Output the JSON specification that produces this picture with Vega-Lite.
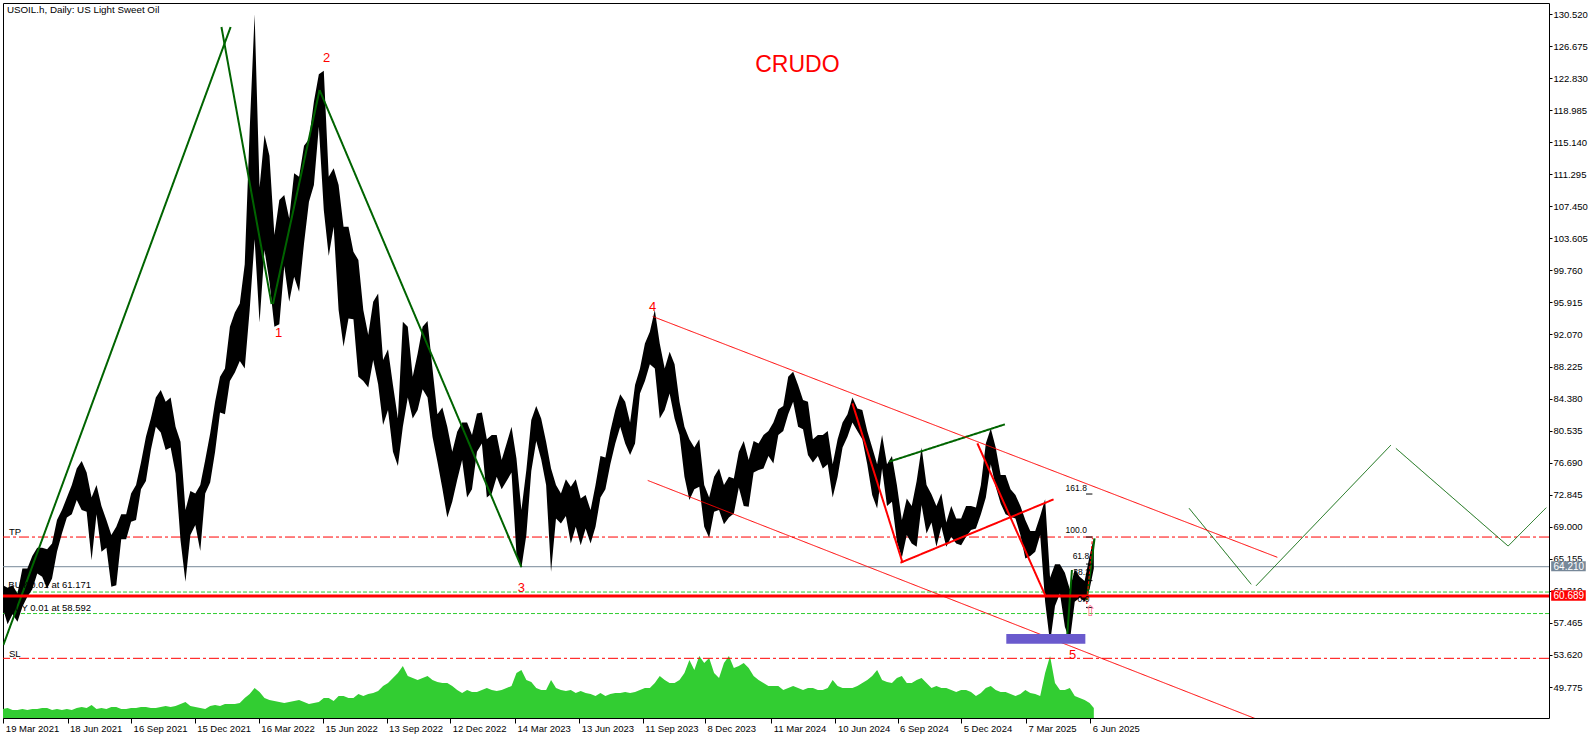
{
"$schema":"https://vega.github.io/schema/vega-lite/v6.json",
"width":1546,"height":715,
"autosize":{"type":"none"},
"padding":{"left":3,"top":3,"right":47,"bottom":21},
"background":"white",
"config":{"view":{"stroke":"black","strokeWidth":1},"font":"Liberation Sans"},
"datasets":{
"w":[
{"d":"2021-03-18","l":59.3,"h":62.0,"v":9},{"d":"2021-03-25","l":57.3,"h":61.7,"v":10},{"d":"2021-04-01","l":58.5,"h":62.0,"v":8},{"d":"2021-04-08","l":57.6,"h":61.0,"v":8},{"d":"2021-04-15","l":59.4,"h":64.0,"v":9},{"d":"2021-04-22","l":60.6,"h":64.0,"v":8},{"d":"2021-04-29","l":61.5,"h":65.5,"v":9},{"d":"2021-05-06","l":63.4,"h":66.5,"v":9},{"d":"2021-05-13","l":63.0,"h":66.5,"v":10},{"d":"2021-05-20","l":61.6,"h":66.3,"v":10},{"d":"2021-05-27","l":62.8,"h":67.0,"v":8},{"d":"2021-06-03","l":66.0,"h":69.8,"v":9},{"d":"2021-06-10","l":68.2,"h":71.0,"v":8},{"d":"2021-06-17","l":70.1,"h":72.5,"v":9},{"d":"2021-06-24","l":70.5,"h":74.0,"v":8},{"d":"2021-07-01","l":72.2,"h":76.0,"v":10},{"d":"2021-07-08","l":71.0,"h":76.9,"v":11},{"d":"2021-07-15","l":70.8,"h":75.5,"v":10},{"d":"2021-07-22","l":65.0,"h":72.5,"v":13},{"d":"2021-07-29","l":70.5,"h":74.0,"v":9},{"d":"2021-08-05","l":66.0,"h":71.5,"v":10},{"d":"2021-08-12","l":66.5,"h":69.8,"v":9},{"d":"2021-08-19","l":61.8,"h":68.0,"v":11},{"d":"2021-08-26","l":62.0,"h":69.0,"v":11},{"d":"2021-09-02","l":67.5,"h":70.5,"v":9},{"d":"2021-09-09","l":67.5,"h":70.5,"v":9},{"d":"2021-09-16","l":69.6,"h":73.0,"v":10},{"d":"2021-09-23","l":69.8,"h":74.0,"v":10},{"d":"2021-09-30","l":73.5,"h":76.7,"v":11},{"d":"2021-10-07","l":74.5,"h":79.8,"v":11},{"d":"2021-10-14","l":78.2,"h":82.0,"v":10},{"d":"2021-10-21","l":81.0,"h":84.5,"v":10},{"d":"2021-10-28","l":80.3,"h":85.4,"v":11},{"d":"2021-11-04","l":78.2,"h":84.0,"v":12},{"d":"2021-11-11","l":78.5,"h":84.5,"v":11},{"d":"2021-11-18","l":75.4,"h":81.0,"v":12},{"d":"2021-11-25","l":67.4,"h":79.2,"v":14},{"d":"2021-12-02","l":62.4,"h":71.0,"v":16},{"d":"2021-12-09","l":68.0,"h":73.3,"v":12},{"d":"2021-12-16","l":69.2,"h":73.0,"v":11},{"d":"2021-12-23","l":66.1,"h":74.0,"v":10},{"d":"2021-12-30","l":73.0,"h":77.0,"v":9},
{"d":"2022-01-06","l":74.3,"h":80.2,"v":12},{"d":"2022-01-13","l":78.0,"h":84.0,"v":13},{"d":"2022-01-20","l":82.7,"h":87.0,"v":12},{"d":"2022-01-27","l":82.5,"h":88.0,"v":14},{"d":"2022-02-03","l":86.5,"h":93.0,"v":14},{"d":"2022-02-10","l":87.5,"h":94.7,"v":14},{"d":"2022-02-17","l":88.9,"h":95.8,"v":15},{"d":"2022-02-24","l":88.0,"h":100.5,"v":20},{"d":"2022-03-03","l":95.0,"h":116.6,"v":24},{"d":"2022-03-10","l":103.5,"h":130.5,"v":30},{"d":"2022-03-17","l":93.5,"h":109.7,"v":26},{"d":"2022-03-24","l":102.2,"h":116.0,"v":20},{"d":"2022-03-31","l":98.4,"h":113.5,"v":18},{"d":"2022-04-07","l":93.0,"h":104.0,"v":17},{"d":"2022-04-14","l":93.3,"h":108.2,"v":16},{"d":"2022-04-21","l":100.3,"h":108.8,"v":15},{"d":"2022-04-28","l":96.0,"h":106.0,"v":16},{"d":"2022-05-05","l":99.0,"h":111.4,"v":17},{"d":"2022-05-12","l":97.2,"h":111.0,"v":18},{"d":"2022-05-19","l":103.0,"h":114.7,"v":16},{"d":"2022-05-26","l":108.0,"h":115.5,"v":14},{"d":"2022-06-02","l":110.0,"h":120.0,"v":15},{"d":"2022-06-09","l":117.0,"h":123.3,"v":16},{"d":"2022-06-16","l":107.0,"h":123.7,"v":20},{"d":"2022-06-23","l":101.5,"h":111.0,"v":20},{"d":"2022-06-30","l":105.0,"h":112.0,"v":17},{"d":"2022-07-07","l":95.0,"h":110.0,"v":22},{"d":"2022-07-14","l":90.6,"h":105.0,"v":22},{"d":"2022-07-21","l":94.0,"h":105.0,"v":20},{"d":"2022-07-28","l":93.9,"h":102.0,"v":20},{"d":"2022-08-04","l":87.0,"h":101.0,"v":24},{"d":"2022-08-11","l":86.5,"h":95.0,"v":22},{"d":"2022-08-18","l":85.7,"h":92.0,"v":24},{"d":"2022-08-25","l":89.0,"h":96.0,"v":25},{"d":"2022-09-01","l":86.1,"h":97.0,"v":27},{"d":"2022-09-08","l":81.2,"h":89.0,"v":32},{"d":"2022-09-15","l":83.0,"h":90.3,"v":35},{"d":"2022-09-22","l":78.0,"h":86.0,"v":40},{"d":"2022-09-29","l":76.3,"h":82.0,"v":45},{"d":"2022-10-06","l":81.0,"h":93.6,"v":52},{"d":"2022-10-13","l":84.5,"h":93.0,"v":42},{"d":"2022-10-20","l":82.0,"h":87.0,"v":40},{"d":"2022-10-27","l":83.0,"h":89.8,"v":38},{"d":"2022-11-03","l":85.5,"h":93.0,"v":40},{"d":"2022-11-10","l":84.5,"h":93.7,"v":42},{"d":"2022-11-17","l":79.8,"h":88.0,"v":38},{"d":"2022-11-24","l":76.8,"h":82.5,"v":36},{"d":"2022-12-01","l":73.6,"h":83.3,"v":35},{"d":"2022-12-08","l":70.1,"h":81.0,"v":35},{"d":"2022-12-15","l":72.0,"h":78.0,"v":32},{"d":"2022-12-22","l":74.6,"h":80.4,"v":28},{"d":"2022-12-29","l":77.0,"h":81.5,"v":25},
{"d":"2023-01-05","l":72.5,"h":81.5,"v":28},{"d":"2023-01-12","l":73.5,"h":80.0,"v":26},{"d":"2023-01-19","l":78.0,"h":82.6,"v":26},{"d":"2023-01-26","l":79.0,"h":82.7,"v":28},{"d":"2023-02-02","l":72.5,"h":79.5,"v":30},{"d":"2023-02-09","l":73.0,"h":80.0,"v":28},{"d":"2023-02-16","l":75.0,"h":80.0,"v":27},{"d":"2023-02-23","l":73.5,"h":77.0,"v":28},{"d":"2023-03-02","l":74.5,"h":79.0,"v":30},{"d":"2023-03-09","l":75.5,"h":81.0,"v":32},{"d":"2023-03-16","l":65.7,"h":77.2,"v":45},{"d":"2023-03-23","l":64.1,"h":71.0,"v":48},{"d":"2023-03-30","l":68.0,"h":75.8,"v":38},{"d":"2023-04-06","l":75.7,"h":81.8,"v":36},{"d":"2023-04-13","l":79.3,"h":83.5,"v":30},{"d":"2023-04-20","l":77.1,"h":82.0,"v":28},{"d":"2023-04-27","l":74.0,"h":79.2,"v":28},{"d":"2023-05-04","l":63.6,"h":76.0,"v":38},{"d":"2023-05-11","l":70.0,"h":74.0,"v":30},{"d":"2023-05-18","l":69.4,"h":73.0,"v":28},{"d":"2023-05-25","l":70.3,"h":74.7,"v":27},{"d":"2023-06-01","l":67.0,"h":73.8,"v":28},{"d":"2023-06-08","l":69.0,"h":74.7,"v":25},{"d":"2023-06-15","l":66.8,"h":72.4,"v":27},{"d":"2023-06-22","l":68.8,"h":72.8,"v":25},{"d":"2023-06-29","l":67.0,"h":71.0,"v":24},{"d":"2023-07-06","l":69.0,"h":74.0,"v":22},{"d":"2023-07-13","l":72.5,"h":77.5,"v":25},{"d":"2023-07-20","l":73.5,"h":77.3,"v":22},{"d":"2023-07-27","l":76.5,"h":80.5,"v":24},{"d":"2023-08-03","l":79.0,"h":83.0,"v":25},{"d":"2023-08-10","l":81.0,"h":84.9,"v":25},{"d":"2023-08-17","l":79.0,"h":84.0,"v":26},{"d":"2023-08-24","l":77.6,"h":81.5,"v":25},{"d":"2023-08-31","l":79.0,"h":86.0,"v":26},{"d":"2023-09-07","l":85.0,"h":88.0,"v":28},{"d":"2023-09-14","l":86.5,"h":91.0,"v":30},{"d":"2023-09-21","l":88.5,"h":92.4,"v":30},{"d":"2023-09-28","l":88.0,"h":95.0,"v":35},{"d":"2023-10-05","l":82.0,"h":91.0,"v":42},{"d":"2023-10-12","l":83.0,"h":88.0,"v":38},{"d":"2023-10-19","l":85.0,"h":90.0,"v":35},{"d":"2023-10-26","l":82.0,"h":88.5,"v":35},{"d":"2023-11-02","l":80.0,"h":84.0,"v":38},{"d":"2023-11-09","l":75.0,"h":81.0,"v":45},{"d":"2023-11-16","l":72.2,"h":79.5,"v":58},{"d":"2023-11-23","l":73.5,"h":78.5,"v":48},{"d":"2023-11-30","l":73.8,"h":79.5,"v":62},{"d":"2023-12-07","l":69.0,"h":74.0,"v":55},{"d":"2023-12-14","l":67.7,"h":72.5,"v":60},{"d":"2023-12-21","l":70.8,"h":75.0,"v":45},{"d":"2023-12-28","l":71.0,"h":76.0,"v":40},
{"d":"2024-01-04","l":69.3,"h":74.0,"v":55},{"d":"2024-01-11","l":70.1,"h":75.0,"v":62},{"d":"2024-01-18","l":70.6,"h":74.8,"v":50},{"d":"2024-01-25","l":73.7,"h":78.0,"v":52},{"d":"2024-02-01","l":71.5,"h":79.3,"v":55},{"d":"2024-02-08","l":71.4,"h":77.0,"v":50},{"d":"2024-02-15","l":75.5,"h":79.3,"v":42},{"d":"2024-02-22","l":75.8,"h":79.0,"v":38},{"d":"2024-02-29","l":76.0,"h":80.0,"v":35},{"d":"2024-03-07","l":77.5,"h":80.5,"v":32},{"d":"2024-03-14","l":76.6,"h":81.5,"v":32},{"d":"2024-03-21","l":80.0,"h":83.1,"v":32},{"d":"2024-03-28","l":80.5,"h":83.5,"v":28},{"d":"2024-04-04","l":82.5,"h":87.0,"v":30},{"d":"2024-04-11","l":84.0,"h":87.6,"v":32},{"d":"2024-04-18","l":81.0,"h":86.0,"v":30},{"d":"2024-04-25","l":80.7,"h":84.2,"v":28},{"d":"2024-05-02","l":77.6,"h":84.0,"v":30},{"d":"2024-05-09","l":76.7,"h":79.5,"v":30},{"d":"2024-05-16","l":77.5,"h":80.0,"v":28},{"d":"2024-05-23","l":76.0,"h":80.0,"v":28},{"d":"2024-05-30","l":76.5,"h":80.5,"v":30},{"d":"2024-06-06","l":72.5,"h":76.5,"v":38},{"d":"2024-06-13","l":75.0,"h":79.5,"v":32},{"d":"2024-06-20","l":78.5,"h":81.5,"v":30},{"d":"2024-06-27","l":79.8,"h":82.5,"v":30},{"d":"2024-07-04","l":81.5,"h":84.5,"v":30},{"d":"2024-07-11","l":80.5,"h":83.2,"v":32},{"d":"2024-07-18","l":79.5,"h":83.0,"v":35},{"d":"2024-07-25","l":76.5,"h":80.5,"v":38},{"d":"2024-08-01","l":72.8,"h":78.5,"v":42},{"d":"2024-08-08","l":71.2,"h":76.5,"v":48},{"d":"2024-08-15","l":76.0,"h":80.0,"v":38},{"d":"2024-08-22","l":71.5,"h":76.5,"v":36},{"d":"2024-08-29","l":72.0,"h":77.5,"v":35},{"d":"2024-09-05","l":67.2,"h":74.0,"v":40},{"d":"2024-09-12","l":65.3,"h":69.8,"v":42},{"d":"2024-09-19","l":68.0,"h":72.4,"v":35},{"d":"2024-09-26","l":67.0,"h":71.5,"v":35},{"d":"2024-10-03","l":66.6,"h":74.5,"v":38},{"d":"2024-10-10","l":71.6,"h":78.5,"v":40},{"d":"2024-10-17","l":68.2,"h":74.0,"v":35},{"d":"2024-10-24","l":69.5,"h":72.9,"v":30},{"d":"2024-10-31","l":66.6,"h":71.5,"v":32},{"d":"2024-11-07","l":69.0,"h":73.0,"v":30},{"d":"2024-11-14","l":66.6,"h":69.5,"v":30},{"d":"2024-11-21","l":67.8,"h":71.5,"v":28},{"d":"2024-11-28","l":67.0,"h":70.0,"v":26},{"d":"2024-12-05","l":66.8,"h":70.0,"v":28},{"d":"2024-12-12","l":67.8,"h":71.5,"v":28},{"d":"2024-12-19","l":68.6,"h":71.5,"v":26},{"d":"2024-12-26","l":68.8,"h":71.3,"v":22},
{"d":"2025-01-02","l":70.5,"h":74.0,"v":25},{"d":"2025-01-09","l":72.5,"h":79.0,"v":30},{"d":"2025-01-16","l":76.5,"h":80.8,"v":32},{"d":"2025-01-23","l":73.8,"h":78.5,"v":28},{"d":"2025-01-30","l":71.8,"h":75.2,"v":26},{"d":"2025-02-06","l":70.5,"h":75.2,"v":26},{"d":"2025-02-13","l":70.2,"h":73.5,"v":24},{"d":"2025-02-20","l":70.0,"h":72.8,"v":22},{"d":"2025-02-27","l":68.0,"h":71.5,"v":24},{"d":"2025-03-06","l":65.2,"h":69.8,"v":28},{"d":"2025-03-13","l":65.5,"h":68.5,"v":25},{"d":"2025-03-20","l":66.0,"h":68.5,"v":24},{"d":"2025-03-27","l":68.0,"h":70.3,"v":22},{"d":"2025-04-03","l":60.0,"h":72.3,"v":45},{"d":"2025-04-10","l":55.1,"h":62.9,"v":62},{"d":"2025-04-17","l":59.5,"h":64.5,"v":35},{"d":"2025-04-24","l":61.0,"h":64.5,"v":28},{"d":"2025-05-01","l":57.0,"h":63.5,"v":28},{"d":"2025-05-08","l":55.3,"h":61.5,"v":30},{"d":"2025-05-15","l":60.0,"h":63.9,"v":22},{"d":"2025-05-22","l":60.5,"h":63.0,"v":20},{"d":"2025-05-29","l":60.0,"h":62.5,"v":18},{"d":"2025-06-05","l":61.5,"h":65.5,"v":15},{"d":"2025-06-11","l":64.0,"h":67.7,"v":10}
],
"seg":[
{"k":"g2","a":"2021-03-19","p":54.82,"b":"2022-02-04","q":128.96},
{"k":"g2","a":"2022-01-22","p":128.96,"b":"2022-04-03","q":95.73},
{"k":"g2","a":"2022-04-05","p":95.73,"b":"2022-06-10","q":121.4},
{"k":"g2","a":"2022-06-10","p":121.4,"b":"2023-03-23","q":64.17},
{"k":"g2","a":"2024-08-25","p":76.81,"b":"2025-02-05","q":81.29},
{"k":"g2","a":"2025-05-04","p":55.62,"b":"2025-05-11","q":63.81},
{"k":"g2","a":"2025-06-01","p":60.21,"b":"2025-06-12","q":67.6},
{"k":"g1","a":"2025-10-24","p":71.22,"b":"2026-01-20","q":62.10},
{"k":"g1","a":"2026-01-27","p":61.93,"b":"2026-08-06","q":78.81},
{"k":"g1","a":"2026-08-13","p":78.41,"b":"2027-01-19","q":66.69},
{"k":"g1","a":"2027-01-19","p":66.69,"b":"2027-03-14","q":71.29},
{"k":"r1","a":"2023-09-25","p":94.23,"b":"2026-02-26","q":65.34},
{"k":"r1","a":"2023-09-18","p":74.56,"b":"2026-01-26","q":45.98},
{"k":"r2","a":"2024-07-04","p":83.81,"b":"2024-09-13","q":64.69},
{"k":"r2","a":"2024-09-10","p":64.69,"b":"2025-04-15","q":72.29},
{"k":"r2","a":"2024-12-28","p":79.01,"b":"2025-04-03","q":60.81},
{"k":"rd","a":"2025-06-01","p":59.74,"b":"2025-06-09","q":67.65},
{"k":"f","a":"2025-05-31","p":72.93,"b":"2025-06-09","q":72.93},
{"k":"f","a":"2025-05-31","p":67.77,"b":"2025-06-09","q":67.77},
{"k":"f","a":"2025-05-31","p":64.53,"b":"2025-06-09","q":64.53},
{"k":"f","a":"2025-05-31","p":62.54,"b":"2025-06-09","q":62.54},
{"k":"f","a":"2025-05-31","p":59.33,"b":"2025-06-09","q":59.33}
],
"lv":[
{"k":"grey","p":64.21},{"k":"tp","p":67.77},{"k":"sl","p":53.22},{"k":"buy","p":61.171},{"k":"buy","p":58.592},{"k":"pos","p":60.689}
],
"bx":[
{"k":"z","a":"2025-02-07","b":"2025-05-30","p":54.97,"q":56.14},
{"k":"g","a":"2027-03-21","b":"2027-05-09","p":63.66,"q":64.86},
{"k":"r","a":"2027-03-21","b":"2027-05-09","p":60.13,"q":61.38}
],
"tx":[
{"k":"h","d":"2021-03-24","p":130.6,"t":"USOIL.h, Daily:  US Light Sweet Oil"},
{"k":"o","d":"2021-03-27","p":67.99,"t":"TP"},
{"k":"o","d":"2021-03-27","p":53.41,"t":"SL"},
{"k":"o","d":"2021-03-26","p":61.65,"t":"BUY 0.01 at 61.171"},
{"k":"o","d":"2021-03-26","p":58.89,"t":"BUY 0.01 at 58.592"},
{"k":"n","d":"2022-04-13","p":92.25,"t":"1"},
{"k":"n","d":"2022-06-20","p":125.24,"t":"2"},
{"k":"n","d":"2023-03-23","p":61.65,"t":"3"},
{"k":"n","d":"2023-09-25","p":95.37,"t":"4"},
{"k":"n","d":"2025-05-12","p":53.56,"t":"5"},
{"k":"c","d":"2024-04-17","p":124.4,"t":"CRUDO"},
{"k":"f","d":"2025-05-02","p":73.33,"t":"161.8"},
{"k":"f","d":"2025-05-02","p":68.29,"t":"100.0"},
{"k":"f","d":"2025-05-12","p":65.13,"t":"61.8"},
{"k":"f","d":"2025-05-13","p":63.21,"t":"38.2"},
{"k":"f","d":"2025-05-19","p":60.01,"t":"0.0"},
{"k":"a","d":"2025-06-07","p":58.9,"t":"⇧"},
{"k":"b","d":"2027-04-15","p":64.21,"t":"64.210"},
{"k":"b","d":"2027-04-15","p":60.689,"t":"60.689"}
]
},
"layer":[
{"data":{"name":"w"},"mark":{"type":"area","color":"#32CD32","clip":true},
 "encoding":{
  "x":{"field":"d","type":"temporal","title":null,"scale":{"type":"utc","domain":[{"year":2021,"month":3,"date":18,"hours":12,"utc":true},{"year":2027,"month":3,"date":17,"hours":22,"utc":true}]},
   "axis":{"title":null,"values":[{"year":2021,"month":3,"date":19,"utc":true},{"year":2021,"month":6,"date":18,"utc":true},{"year":2021,"month":9,"date":16,"utc":true},{"year":2021,"month":12,"date":15,"utc":true},{"year":2022,"month":3,"date":16,"utc":true},{"year":2022,"month":6,"date":15,"utc":true},{"year":2022,"month":9,"date":13,"utc":true},{"year":2022,"month":12,"date":12,"utc":true},{"year":2023,"month":3,"date":14,"utc":true},{"year":2023,"month":6,"date":13,"utc":true},{"year":2023,"month":9,"date":11,"utc":true},{"year":2023,"month":12,"date":8,"utc":true},{"year":2024,"month":3,"date":11,"utc":true},{"year":2024,"month":6,"date":10,"utc":true},{"year":2024,"month":9,"date":6,"utc":true},{"year":2024,"month":12,"date":5,"utc":true},{"year":2025,"month":3,"date":7,"utc":true},{"year":2025,"month":6,"date":6,"utc":true}],"labelExpr":"utcFormat(datum.value, '%-d %b %Y')","labelAlign":"left","labelOffset":2,"labelBaseline":"top","labelPadding":0,"tickSize":5,"tickColor":"black","labelColor":"black","labelFont":"Liberation Sans","labelFontSize":9.5,"domain":false,"grid":false,"labelOverlap":false,"labelFlush":false,"labelBound":false}},
  "y":{"field":"v","type":"quantitative","scale":{"domain":[0,715],"nice":false},"axis":null}}},
{"layer":[
 {"data":{"name":"lv"},"transform":[{"filter":"datum.k!=='pos'"}],"mark":{"type":"rule","strokeWidth":1},
  "encoding":{
   "y":{"field":"p","type":"quantitative","title":null,"scale":{"domain":[46.06,131.84],"nice":false,"zero":false},"axis":{"orient":"right","title":null,"values":[130.52,126.675,122.83,118.985,115.14,111.295,107.45,103.605,99.76,95.915,92.07,88.225,84.38,80.535,76.69,72.845,69.0,65.155,61.31,57.465,53.62,49.775],"format":".3f","tickSize":3,"labelPadding":1,"labelFont":"Liberation Sans","labelFontSize":9.5,"labelColor":"black","tickColor":"black","domain":false,"grid":false,"labelOverlap":false,"labelBaseline":"middle","labelFlush":false,"labelBound":false}},
   "color":{"field":"k","type":"nominal","scale":{"domain":["grey","tp","sl","buy"],"range":["#778899","#FF0000","#FF0000","#32CD32"]},"legend":null},
   "strokeDash":{"field":"k","type":"nominal","scale":{"domain":["grey","tp","sl","buy"],"range":[[1,0],[10,3,3,3],[10,3,3,3],[4,2]]},"legend":null}}},
 {"data":{"name":"w"},"mark":{"type":"area","color":"#000000","clip":true},
  "encoding":{
   "x":{"field":"d","type":"temporal","title":null,"scale":{"type":"utc","domain":[{"year":2021,"month":3,"date":18,"hours":12,"utc":true},{"year":2027,"month":3,"date":17,"hours":22,"utc":true}]},
    "axis":{"title":null,"values":[{"year":2021,"month":3,"date":19,"utc":true},{"year":2021,"month":6,"date":18,"utc":true},{"year":2021,"month":9,"date":16,"utc":true},{"year":2021,"month":12,"date":15,"utc":true},{"year":2022,"month":3,"date":16,"utc":true},{"year":2022,"month":6,"date":15,"utc":true},{"year":2022,"month":9,"date":13,"utc":true},{"year":2022,"month":12,"date":12,"utc":true},{"year":2023,"month":3,"date":14,"utc":true},{"year":2023,"month":6,"date":13,"utc":true},{"year":2023,"month":9,"date":11,"utc":true},{"year":2023,"month":12,"date":8,"utc":true},{"year":2024,"month":3,"date":11,"utc":true},{"year":2024,"month":6,"date":10,"utc":true},{"year":2024,"month":9,"date":6,"utc":true},{"year":2024,"month":12,"date":5,"utc":true},{"year":2025,"month":3,"date":7,"utc":true},{"year":2025,"month":6,"date":6,"utc":true}],"labelExpr":"utcFormat(datum.value, '%-d %b %Y')","labelAlign":"left","labelOffset":2,"labelBaseline":"top","labelPadding":0,"tickSize":5,"tickColor":"black","labelColor":"black","labelFont":"Liberation Sans","labelFontSize":9.5,"domain":false,"grid":false,"labelOverlap":false,"labelFlush":false,"labelBound":false}},
   "y":{"field":"l","type":"quantitative","title":null,"scale":{"domain":[46.06,131.84],"nice":false,"zero":false},"axis":{"orient":"right","title":null,"values":[130.52,126.675,122.83,118.985,115.14,111.295,107.45,103.605,99.76,95.915,92.07,88.225,84.38,80.535,76.69,72.845,69.0,65.155,61.31,57.465,53.62,49.775],"format":".3f","tickSize":3,"labelPadding":1,"labelFont":"Liberation Sans","labelFontSize":9.5,"labelColor":"black","tickColor":"black","domain":false,"grid":false,"labelOverlap":false,"labelBaseline":"middle","labelFlush":false,"labelBound":false}},
   "y2":{"field":"h"}}},
 {"data":{"name":"seg"},"mark":{"type":"rule","clip":true},
  "encoding":{
   "x":{"field":"a","type":"temporal","title":null,"scale":{"type":"utc","domain":[{"year":2021,"month":3,"date":18,"hours":12,"utc":true},{"year":2027,"month":3,"date":17,"hours":22,"utc":true}]},
    "axis":{"title":null,"values":[{"year":2021,"month":3,"date":19,"utc":true},{"year":2021,"month":6,"date":18,"utc":true},{"year":2021,"month":9,"date":16,"utc":true},{"year":2021,"month":12,"date":15,"utc":true},{"year":2022,"month":3,"date":16,"utc":true},{"year":2022,"month":6,"date":15,"utc":true},{"year":2022,"month":9,"date":13,"utc":true},{"year":2022,"month":12,"date":12,"utc":true},{"year":2023,"month":3,"date":14,"utc":true},{"year":2023,"month":6,"date":13,"utc":true},{"year":2023,"month":9,"date":11,"utc":true},{"year":2023,"month":12,"date":8,"utc":true},{"year":2024,"month":3,"date":11,"utc":true},{"year":2024,"month":6,"date":10,"utc":true},{"year":2024,"month":9,"date":6,"utc":true},{"year":2024,"month":12,"date":5,"utc":true},{"year":2025,"month":3,"date":7,"utc":true},{"year":2025,"month":6,"date":6,"utc":true}],"labelExpr":"utcFormat(datum.value, '%-d %b %Y')","labelAlign":"left","labelOffset":2,"labelBaseline":"top","labelPadding":0,"tickSize":5,"tickColor":"black","labelColor":"black","labelFont":"Liberation Sans","labelFontSize":9.5,"domain":false,"grid":false,"labelOverlap":false,"labelFlush":false,"labelBound":false}},
   "x2":{"field":"b"},
   "y":{"field":"p","type":"quantitative","title":null,"scale":{"domain":[46.06,131.84],"nice":false,"zero":false},"axis":{"orient":"right","title":null,"values":[130.52,126.675,122.83,118.985,115.14,111.295,107.45,103.605,99.76,95.915,92.07,88.225,84.38,80.535,76.69,72.845,69.0,65.155,61.31,57.465,53.62,49.775],"format":".3f","tickSize":3,"labelPadding":1,"labelFont":"Liberation Sans","labelFontSize":9.5,"labelColor":"black","tickColor":"black","domain":false,"grid":false,"labelOverlap":false,"labelBaseline":"middle","labelFlush":false,"labelBound":false}},
   "y2":{"field":"q"},
   "color":{"field":"k","type":"nominal","scale":{"domain":["g2","g1","r1","r2","rd","f"],"range":["#006400","#006400","#FF0000","#FF0000","#FF0000","#000000"]},"legend":null},
   "strokeWidth":{"field":"k","type":"nominal","scale":{"type":"ordinal","domain":["g2","g1","r1","r2","rd","f"],"range":[2,1,1,2,1,1]},"legend":null},
   "strokeDash":{"field":"k","type":"nominal","scale":{"domain":["g2","g1","r1","r2","rd","f"],"range":[[1,0],[1,0],[1,0],[1,0],[3,2],[1,0]]},"legend":null}}},
 {"data":{"name":"lv"},"transform":[{"filter":"datum.k==='pos'"}],"mark":{"type":"rule","color":"#FF0000","strokeWidth":3},
  "encoding":{
   "y":{"field":"p","type":"quantitative","title":null,"scale":{"domain":[46.06,131.84],"nice":false,"zero":false},"axis":{"orient":"right","title":null,"values":[130.52,126.675,122.83,118.985,115.14,111.295,107.45,103.605,99.76,95.915,92.07,88.225,84.38,80.535,76.69,72.845,69.0,65.155,61.31,57.465,53.62,49.775],"format":".3f","tickSize":3,"labelPadding":1,"labelFont":"Liberation Sans","labelFontSize":9.5,"labelColor":"black","tickColor":"black","domain":false,"grid":false,"labelOverlap":false,"labelBaseline":"middle","labelFlush":false,"labelBound":false}}}},
 {"data":{"name":"bx"},"mark":{"type":"rect"},
  "encoding":{
   "x":{"field":"a","type":"temporal","title":null,"scale":{"type":"utc","domain":[{"year":2021,"month":3,"date":18,"hours":12,"utc":true},{"year":2027,"month":3,"date":17,"hours":22,"utc":true}]},
    "axis":{"title":null,"values":[{"year":2021,"month":3,"date":19,"utc":true},{"year":2021,"month":6,"date":18,"utc":true},{"year":2021,"month":9,"date":16,"utc":true},{"year":2021,"month":12,"date":15,"utc":true},{"year":2022,"month":3,"date":16,"utc":true},{"year":2022,"month":6,"date":15,"utc":true},{"year":2022,"month":9,"date":13,"utc":true},{"year":2022,"month":12,"date":12,"utc":true},{"year":2023,"month":3,"date":14,"utc":true},{"year":2023,"month":6,"date":13,"utc":true},{"year":2023,"month":9,"date":11,"utc":true},{"year":2023,"month":12,"date":8,"utc":true},{"year":2024,"month":3,"date":11,"utc":true},{"year":2024,"month":6,"date":10,"utc":true},{"year":2024,"month":9,"date":6,"utc":true},{"year":2024,"month":12,"date":5,"utc":true},{"year":2025,"month":3,"date":7,"utc":true},{"year":2025,"month":6,"date":6,"utc":true}],"labelExpr":"utcFormat(datum.value, '%-d %b %Y')","labelAlign":"left","labelOffset":2,"labelBaseline":"top","labelPadding":0,"tickSize":5,"tickColor":"black","labelColor":"black","labelFont":"Liberation Sans","labelFontSize":9.5,"domain":false,"grid":false,"labelOverlap":false,"labelFlush":false,"labelBound":false}},
   "x2":{"field":"b"},
   "y":{"field":"p","type":"quantitative","title":null,"scale":{"domain":[46.06,131.84],"nice":false,"zero":false},"axis":{"orient":"right","title":null,"values":[130.52,126.675,122.83,118.985,115.14,111.295,107.45,103.605,99.76,95.915,92.07,88.225,84.38,80.535,76.69,72.845,69.0,65.155,61.31,57.465,53.62,49.775],"format":".3f","tickSize":3,"labelPadding":1,"labelFont":"Liberation Sans","labelFontSize":9.5,"labelColor":"black","tickColor":"black","domain":false,"grid":false,"labelOverlap":false,"labelBaseline":"middle","labelFlush":false,"labelBound":false}},
   "y2":{"field":"q"},
   "color":{"field":"k","type":"nominal","scale":{"domain":["z","g","r"],"range":["#6A5ACD","#778899","#FF0000"]},"legend":null}}},
 {"data":{"name":"tx"},"transform":[{"filter":"datum.k==='h'||datum.k==='o'||datum.k==='f'"}],"mark":{"type":"text","align":"left","baseline":"alphabetic","color":"#000000"},
  "encoding":{
   "x":{"field":"d","type":"temporal","title":null,"scale":{"type":"utc","domain":[{"year":2021,"month":3,"date":18,"hours":12,"utc":true},{"year":2027,"month":3,"date":17,"hours":22,"utc":true}]},
    "axis":{"title":null,"values":[{"year":2021,"month":3,"date":19,"utc":true},{"year":2021,"month":6,"date":18,"utc":true},{"year":2021,"month":9,"date":16,"utc":true},{"year":2021,"month":12,"date":15,"utc":true},{"year":2022,"month":3,"date":16,"utc":true},{"year":2022,"month":6,"date":15,"utc":true},{"year":2022,"month":9,"date":13,"utc":true},{"year":2022,"month":12,"date":12,"utc":true},{"year":2023,"month":3,"date":14,"utc":true},{"year":2023,"month":6,"date":13,"utc":true},{"year":2023,"month":9,"date":11,"utc":true},{"year":2023,"month":12,"date":8,"utc":true},{"year":2024,"month":3,"date":11,"utc":true},{"year":2024,"month":6,"date":10,"utc":true},{"year":2024,"month":9,"date":6,"utc":true},{"year":2024,"month":12,"date":5,"utc":true},{"year":2025,"month":3,"date":7,"utc":true},{"year":2025,"month":6,"date":6,"utc":true}],"labelExpr":"utcFormat(datum.value, '%-d %b %Y')","labelAlign":"left","labelOffset":2,"labelBaseline":"top","labelPadding":0,"tickSize":5,"tickColor":"black","labelColor":"black","labelFont":"Liberation Sans","labelFontSize":9.5,"domain":false,"grid":false,"labelOverlap":false,"labelFlush":false,"labelBound":false}},
   "y":{"field":"p","type":"quantitative","title":null,"scale":{"domain":[46.06,131.84],"nice":false,"zero":false},"axis":{"orient":"right","title":null,"values":[130.52,126.675,122.83,118.985,115.14,111.295,107.45,103.605,99.76,95.915,92.07,88.225,84.38,80.535,76.69,72.845,69.0,65.155,61.31,57.465,53.62,49.775],"format":".3f","tickSize":3,"labelPadding":1,"labelFont":"Liberation Sans","labelFontSize":9.5,"labelColor":"black","tickColor":"black","domain":false,"grid":false,"labelOverlap":false,"labelBaseline":"middle","labelFlush":false,"labelBound":false}},
   "size":{"field":"k","type":"nominal","scale":{"type":"ordinal","domain":["h","o","f"],"range":[9.8,9.5,8.5]},"legend":null},
   "text":{"field":"t"}}},
 {"data":{"name":"tx"},"transform":[{"filter":"datum.k==='n'||datum.k==='c'||datum.k==='a'||datum.k==='b'"}],"mark":{"type":"text","align":"center","baseline":"middle"},
  "encoding":{
   "x":{"field":"d","type":"temporal","title":null,"scale":{"type":"utc","domain":[{"year":2021,"month":3,"date":18,"hours":12,"utc":true},{"year":2027,"month":3,"date":17,"hours":22,"utc":true}]},
    "axis":{"title":null,"values":[{"year":2021,"month":3,"date":19,"utc":true},{"year":2021,"month":6,"date":18,"utc":true},{"year":2021,"month":9,"date":16,"utc":true},{"year":2021,"month":12,"date":15,"utc":true},{"year":2022,"month":3,"date":16,"utc":true},{"year":2022,"month":6,"date":15,"utc":true},{"year":2022,"month":9,"date":13,"utc":true},{"year":2022,"month":12,"date":12,"utc":true},{"year":2023,"month":3,"date":14,"utc":true},{"year":2023,"month":6,"date":13,"utc":true},{"year":2023,"month":9,"date":11,"utc":true},{"year":2023,"month":12,"date":8,"utc":true},{"year":2024,"month":3,"date":11,"utc":true},{"year":2024,"month":6,"date":10,"utc":true},{"year":2024,"month":9,"date":6,"utc":true},{"year":2024,"month":12,"date":5,"utc":true},{"year":2025,"month":3,"date":7,"utc":true},{"year":2025,"month":6,"date":6,"utc":true}],"labelExpr":"utcFormat(datum.value, '%-d %b %Y')","labelAlign":"left","labelOffset":2,"labelBaseline":"top","labelPadding":0,"tickSize":5,"tickColor":"black","labelColor":"black","labelFont":"Liberation Sans","labelFontSize":9.5,"domain":false,"grid":false,"labelOverlap":false,"labelFlush":false,"labelBound":false}},
   "y":{"field":"p","type":"quantitative","title":null,"scale":{"domain":[46.06,131.84],"nice":false,"zero":false},"axis":{"orient":"right","title":null,"values":[130.52,126.675,122.83,118.985,115.14,111.295,107.45,103.605,99.76,95.915,92.07,88.225,84.38,80.535,76.69,72.845,69.0,65.155,61.31,57.465,53.62,49.775],"format":".3f","tickSize":3,"labelPadding":1,"labelFont":"Liberation Sans","labelFontSize":9.5,"labelColor":"black","tickColor":"black","domain":false,"grid":false,"labelOverlap":false,"labelBaseline":"middle","labelFlush":false,"labelBound":false}},
   "color":{"field":"k","type":"nominal","scale":{"domain":["n","c","a","b"],"range":["#FF0000","#FF0000","#FF6F91","#FFFFFF"]},"legend":null},
   "size":{"field":"k","type":"nominal","scale":{"type":"ordinal","domain":["n","c","a","b"],"range":[13,23,15,10]},"legend":null},
   "text":{"field":"t"}}}
 ],
 "resolve":{"scale":{"color":"independent","strokeDash":"independent","strokeWidth":"independent","size":"independent"}}}
],
"resolve":{"scale":{"y":"independent"}}
}
